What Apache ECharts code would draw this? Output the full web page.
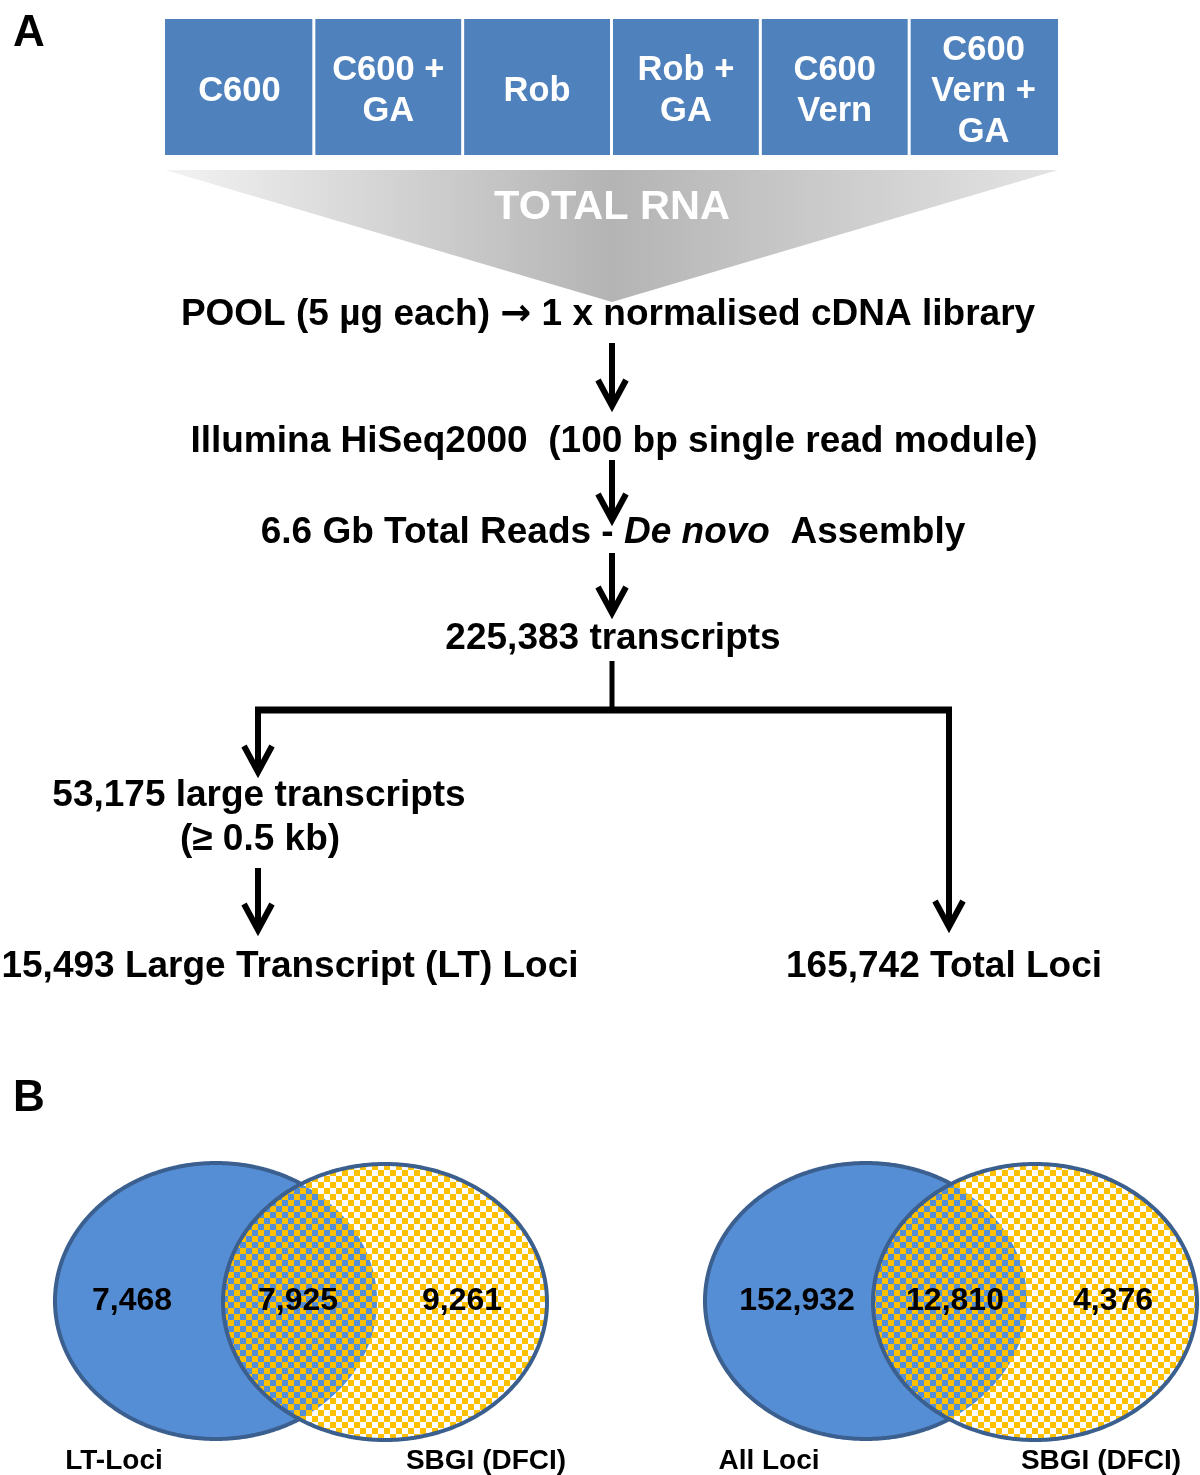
<!DOCTYPE html>
<html>
<head>
<meta charset="utf-8">
<script src="https://cdn.jsdelivr.net/npm/echarts@6/dist/echarts.min.js"></script>
<style>
html,body{margin:0;padding:0;background:#ffffff;}
#chart{width:1200px;height:1475px;}
</style>
</head>
<body>
<div id="chart"></div>
<script>
// ---------------- DATA ----------------
const panelLabels = ['A', 'B'];
const sampleLabels = ['C600', 'C600 +\nGA', 'Rob', 'Rob +\nGA', 'C600\nVern', 'C600\nVern +\nGA'];
const poolLabel = 'TOTAL RNA';
const poolAmountUg = 5;
const sequencer = 'Illumina HiSeq2000';
const readLengthBp = 100;
const totalReadsGb = 6.6;
const transcriptCount = 225383;
const largeTranscriptCount = 53175;
const largeTranscriptMinKb = 0.5;
const ltLociCount = 15493;
const totalLociCount = 165742;
const vennLTSets = ['LT-Loci', 'SBGI (DFCI)'];
const vennLTValues = [7468, 7925, 9261];
const vennAllSets = ['All Loci', 'SBGI (DFCI)'];
const vennAllValues = [152932, 12810, 4376];

// ---------------- STYLE / LAYOUT ----------------
const FONT = '"Liberation Sans", Arial, Helvetica, sans-serif';
const ARROW_FONT = '"DejaVu Sans", "Liberation Sans", sans-serif';
const BOX_BLUE = '#4F81BD';
const VENN_BLUE = '#558ED5';
const VENN_YELLOW = '#FFC000';
const VENN_STROKE = '#3B5F8E';
const FLOW_SIZE = 37;
const fmt = n => n.toLocaleString('en-US');

const els = [];
let zc = 1;
function txt(text, x, y, size, opts) {
  opts = opts || {};
  els.push({
    type: 'text', z: 100,
    style: Object.assign({
      text: text, x: x, y: y,
      fontSize: size, fontWeight: 'bold', fontFamily: FONT,
      fill: opts.color || '#000',
      align: opts.align || 'center', verticalAlign: 'middle',
      textAlign: opts.align || 'center', textVerticalAlign: 'middle',
      lineHeight: opts.lineHeight || size * 1.2
    }, opts.extra || {})
  });
}
function richTxt(text, x, y, rich) {
  els.push({ type: 'text', z: 100, style: {
    text: text, x: x, y: y, align: 'center', verticalAlign: 'middle',
    textAlign: 'center', textVerticalAlign: 'middle', rich: rich } });
}
function vline(x, y1, y2, w) {
  els.push({ type: 'line', z: 50, shape: { x1: x, y1: y1, x2: x, y2: y2 },
    style: { stroke: '#000', lineWidth: w || 6, lineCap: 'butt' } });
}
function arrow(x, y1, y2) {
  vline(x, y1, y2 - 3, 6);
  els.push({ type: 'polyline', z: 51,
    shape: { points: [[x - 14, y2 - 28], [x, y2 - 2], [x + 14, y2 - 28]] },
    style: { stroke: '#000', lineWidth: 6, lineJoin: 'miter', fill: null } });
}
function ellipsePts(cx, cy, rx, ry, n) {
  const p = [];
  for (let i = 0; i < n; i++) {
    const t = i / n * Math.PI * 2;
    p.push([cx + rx * Math.cos(t), cy + ry * Math.sin(t)]);
  }
  return p;
}
const nStyle = { fontSize: FLOW_SIZE, fontWeight: 'bold', fontFamily: FONT, fill: '#000', color: '#000' };

// checker pattern
const pc = document.createElement('canvas');
pc.width = 12; pc.height = 12;
const g = pc.getContext('2d');
g.fillStyle = VENN_YELLOW;
g.fillRect(0, 0, 6, 6);
g.fillRect(6, 6, 6, 6);

// ---------- Panel A ----------
txt(panelLabels[0], 13, 34, 44, { align: 'left' });

const boxL = 165, boxR = 1058, boxT = 19, boxB = 155;
els.push({ type: 'rect', z: 10, shape: { x: boxL, y: boxT, width: boxR - boxL, height: boxB - boxT },
  style: { fill: BOX_BLUE } });
const bw = (boxR - boxL) / sampleLabels.length;
sampleLabels.forEach((s, i) => {
  if (i > 0) {
    els.push({ type: 'line', z: 11, shape: { x1: boxL + i * bw, y1: boxT, x2: boxL + i * bw, y2: boxB },
      style: { stroke: '#fff', lineWidth: 3 } });
  }
  txt(s, boxL + (i + 0.5) * bw, 91, 34.5, { color: '#fff', lineHeight: 41 });
});

// funnel triangle
els.push({ type: 'polygon', z: 5,
  shape: { points: [[165, 170], [1058, 170], [612, 302]] },
  style: { fill: new echarts.graphic.LinearGradient(0, 0, 1, 0, [
    { offset: 0, color: '#f3f3f3' }, { offset: 0.5, color: '#b4b4b4' }, { offset: 1, color: '#e4e4e4' }
  ]) } });
txt(poolLabel, 612, 208, 41.5, { color: '#fff' });

// flow
richTxt('{n|POOL (' + poolAmountUg + ' µg each) }{a|→}{n| 1 x normalised cDNA library}', 608, 315, {
  n: nStyle,
  a: { fontSize: FLOW_SIZE, fontWeight: 'bold', fontFamily: ARROW_FONT, fill: '#000', color: '#000' }
});
arrow(612, 343, 408);
txt(sequencer + '  (' + readLengthBp + ' bp single read module)', 614, 442, FLOW_SIZE);
arrow(612, 460, 522);
richTxt('{n|' + totalReadsGb + ' Gb Total Reads - }{i|De novo}{n|  Assembly}', 613, 533, {
  n: nStyle,
  i: Object.assign({}, nStyle, { fontStyle: 'italic' })
});
arrow(612, 553, 615);
txt(fmt(transcriptCount) + ' transcripts', 613, 639, FLOW_SIZE);

// branch
vline(612, 661, 713, 5);
els.push({ type: 'line', z: 50, shape: { x1: 255, y1: 710, x2: 952, y2: 710 },
  style: { stroke: '#000', lineWidth: 7 } });
arrow(258, 707, 774);
arrow(949, 707, 929);
txt(fmt(largeTranscriptCount) + ' large transcripts', 259, 796, FLOW_SIZE);
txt('(≥ ' + largeTranscriptMinKb + ' kb)', 260, 840, FLOW_SIZE);
arrow(258, 868, 932);
txt(fmt(ltLociCount) + ' Large Transcript (LT) Loci', 290, 967, FLOW_SIZE);
txt(fmt(totalLociCount) + ' Total Loci', 944, 967, FLOW_SIZE);

// ---------- Panel B ----------
txt(panelLabels[1], 13, 1099, 44, { align: 'left' });

function venn(cxA, cxB, cy, rx, ry, values, sets, valueX, setX) {
  const base = zc; zc += 10;
  els.push({ type: 'polygon', z: 20 + base, shape: { points: ellipsePts(cxA, cy, rx, ry, 360) },
    style: { fill: VENN_BLUE } });
  els.push({ type: 'polygon', z: 21 + base, shape: { points: ellipsePts(cxB, cy + 1, rx + 1, ry, 360) },
    style: { fill: { image: pc, repeat: 'repeat' }, stroke: VENN_STROKE, lineWidth: 4 } });
  // outer arc of the first set (outside the second)
  const arc = [];
  for (let i = 0; i <= 720; i++) {
    const t = i / 720 * Math.PI * 2;
    const x = cxA + rx * Math.cos(t), y = cy + ry * Math.sin(t);
    const d = Math.pow((x - cxB) / (rx + 1), 2) + Math.pow((y - cy - 1) / ry, 2);
    if (d > 1.0) arc.push([x, y]);
  }
  els.push({ type: 'polyline', z: 22 + base, shape: { points: arc },
    style: { stroke: VENN_STROKE, lineWidth: 4, fill: null } });
  values.forEach((v, i) => txt(fmt(v), valueX[i], 1301, 32));
  sets.forEach((s, i) => txt(s, setX[i], 1461, 28));
}
venn(216, 385, 1301, 161, 138, vennLTValues, vennLTSets, [132, 298, 462], [114, 486]);
venn(866, 1035, 1301, 161, 138, vennAllValues, vennAllSets, [797, 955, 1113], [769, 1101]);

const chart = echarts.init(document.getElementById('chart'), null, { renderer: 'canvas', width: 1200, height: 1475 });
chart.setOption({ backgroundColor: '#ffffff', animation: false, graphic: { elements: els } });
</script>
</body>
</html>
